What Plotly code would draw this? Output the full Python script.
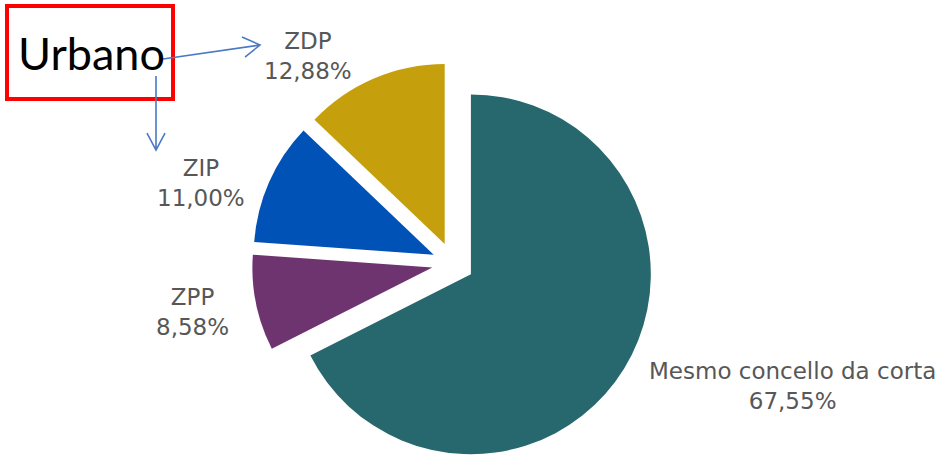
import plotly.graph_objects as go

# Data
categories = ["Mesmo concello da corta", "ZPP", "ZIP", "ZDP"]
values = [67.55, 8.58, 11.00, 12.88]
colors = ["#26686D", "#6E3470", "#0052B6", "#C6A00C"]

W, H = 942, 466


def px(x, y):
    return x / W, 1 - y / H


def fmt(v):
    return f"{v:.2f}".replace(".", ",") + "%"


fig = go.Figure()
fig.add_trace(go.Pie(
    labels=categories,
    values=values,
    sort=False,
    direction="clockwise",
    rotation=0,
    pull=[0.117] * len(values),
    marker=dict(colors=colors, line=dict(width=0)),
    textinfo="none",
    showlegend=False,
    domain=dict(x=[0.2675, 0.6942], y=[0.0, 0.87]),
))

label_pos = {
    "ZDP": (308, 56),
    "ZIP": (201, 183),
    "ZPP": (192, 312),
    "Mesmo concello da corta": (792, 386),
}
for cat, v in zip(categories, values):
    x, y = px(*label_pos[cat])
    fig.add_annotation(
        x=x, y=y, xref="paper", yref="paper",
        text=f"{cat}<br>{fmt(v)}", showarrow=False,
        font=dict(family="DejaVu Sans", size=23, color="#575757"),
        xanchor="center", yanchor="middle", align="center",
    )

# "Urbano" box
x0, y0 = px(7, 6)
x1, y1 = px(173, 99)
fig.add_shape(type="rect", xref="paper", yref="paper",
              x0=x0, y0=y1, x1=x1, y1=y0,
              line=dict(color="#FF0000", width=4), fillcolor="rgba(0,0,0,0)")
tx, ty = px(91, 53)
fig.add_annotation(x=tx, y=ty, xref="paper", yref="paper", text="Urbano",
                   showarrow=False, xanchor="center", yanchor="middle",
                   font=dict(family="Lato", size=45, color="#000000"))


def arrow_path(points_list):
    parts = []
    for pts in points_list:
        p = [px(*q) for q in pts]
        parts.append("M " + " L ".join(f"{a:.5f},{b:.5f}" for a, b in p))
    return " ".join(parts)


arrows = [
    [(163, 59), (260, 45)], [(242, 37), (260, 45), (245, 57)],
    [(156, 76), (156, 150)], [(147, 133), (156, 150), (165, 133)],
]
fig.add_shape(type="path", xref="paper", yref="paper",
              path=arrow_path(arrows),
              line=dict(color="#4A7AC4", width=1.6))

fig.update_layout(
    width=W, height=H,
    margin=dict(l=0, r=0, t=0, b=0),
    paper_bgcolor="white", plot_bgcolor="white",
)

fig.write_html(
    "out.html",
    config={"displayModeBar": False},
    post_script="document.body.style.margin='0';document.body.style.overflow='hidden';",
)
